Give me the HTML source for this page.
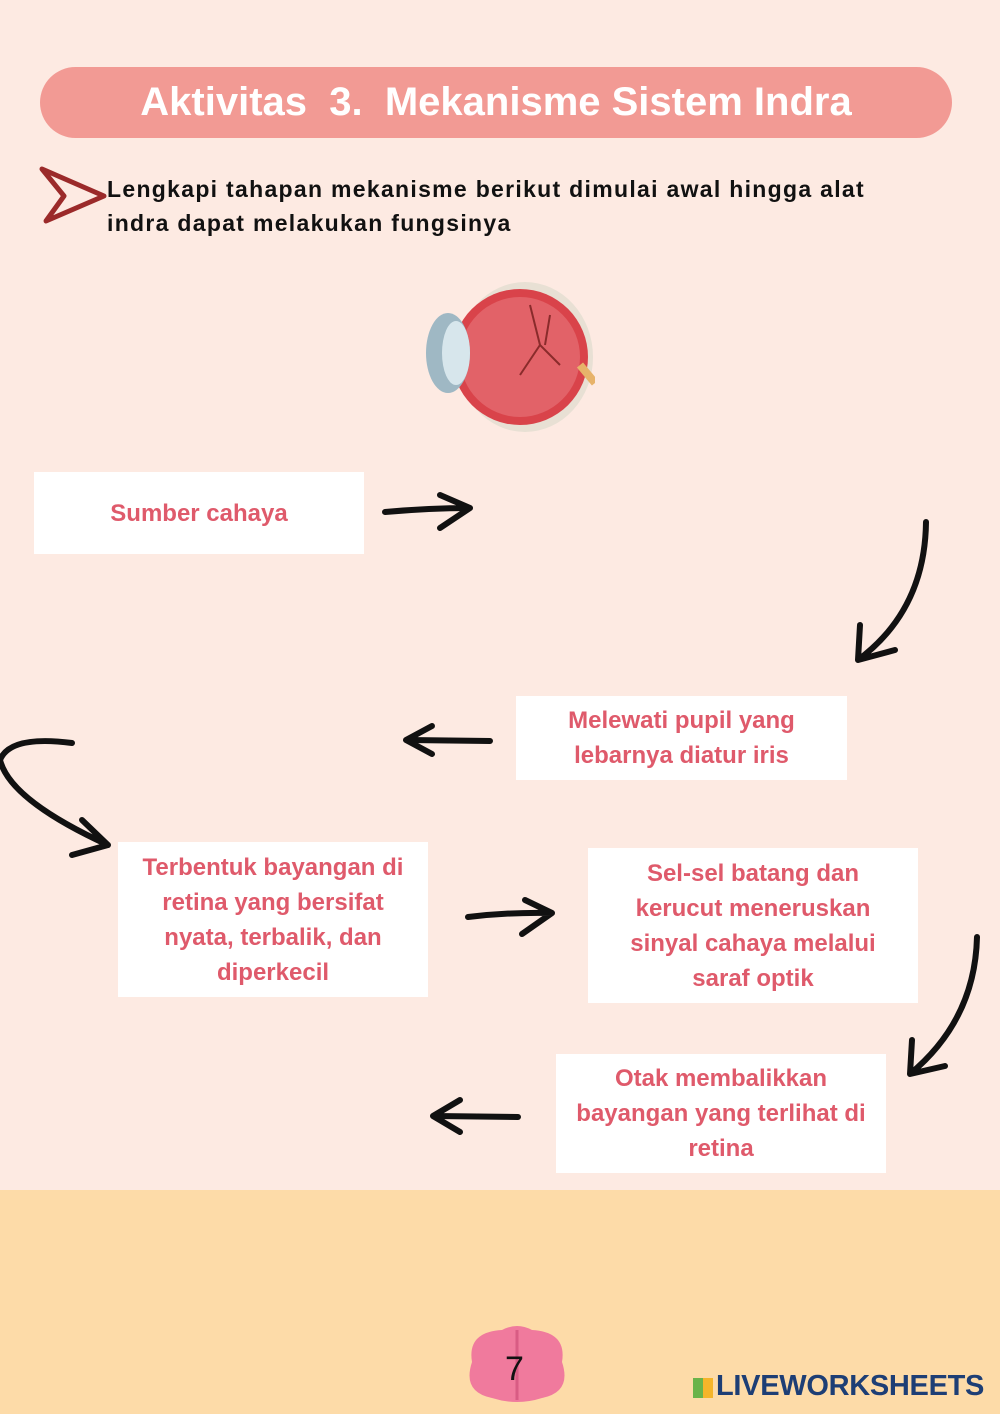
<!DOCTYPE html>
<html><head><style>
body{margin:0;width:1000px;height:1414px;position:relative;background:#fdeae2;font-family:"Liberation Sans",sans-serif;overflow:hidden}
.a{position:absolute}
.pill{left:40px;top:67px;width:912px;height:71px;border-radius:36px;background:#f29a94;color:#fff;font-weight:bold;font-size:40px;text-align:center;line-height:71px}
.ins{left:107px;top:172px;font-weight:bold;font-size:23px;line-height:34px;color:#111;letter-spacing:1.3px;white-space:nowrap}
.box{background:#fff;color:#df5a6b;font-weight:bold;font-size:24px;line-height:35px;text-align:center;display:flex;align-items:center;justify-content:center;white-space:nowrap}
.bot{left:0;top:1190px;width:1000px;height:224px;background:#fddba8}
</style></head><body>
<div class="a pill">Aktivitas&nbsp; 3.&nbsp; Mekanisme Sistem Indra</div>
<svg class="a" style="left:38px;top:165px" width="72" height="60"><path d="M4 4 L66 31 L8 56 L26 31 Z" fill="none" stroke="#9b2a2a" stroke-width="5" stroke-linejoin="round"/></svg>
<div class="a ins">Lengkapi tahapan mekanisme berikut dimulai awal hingga alat<br>indra dapat melakukan fungsinya</div>
<svg class="a" style="left:410px;top:265px" width="185" height="185">
<ellipse cx="115" cy="92" rx="68" ry="75" fill="#e8e0d4"/>
<circle cx="110" cy="92" r="68" fill="#d9434a"/>
<circle cx="110" cy="92" r="60" fill="#e26268"/>
<ellipse cx="38" cy="88" rx="22" ry="40" fill="#9fb8c4"/>
<ellipse cx="46" cy="88" rx="14" ry="32" fill="#d7e6ec"/>
<path d="M170 100 L185 118" stroke="#e7b36a" stroke-width="8"/>
<path d="M120 40 L130 80 L150 100 M130 80 L110 110 M140 50 L135 80" stroke="#8a2b2b" stroke-width="2" fill="none"/>
</svg>
<div class="a box" style="left:34px;top:472px;width:330px;height:82px">Sumber cahaya</div>
<div class="a box" style="left:516px;top:696px;width:331px;height:84px">Melewati pupil yang<br>lebarnya diatur iris</div>
<div class="a box" style="left:118px;top:842px;width:310px;height:155px">Terbentuk bayangan di<br>retina yang bersifat<br>nyata, terbalik, dan<br>diperkecil</div>
<div class="a box" style="left:588px;top:848px;width:330px;height:155px">Sel-sel batang dan<br>kerucut meneruskan<br>sinyal cahaya melalui<br>saraf optik</div>
<div class="a box" style="left:556px;top:1054px;width:330px;height:119px">Otak membalikkan<br>bayangan yang terlihat di<br>retina</div>
<svg class="a" style="left:0;top:0" width="1000" height="1190" fill="none" stroke="#111" stroke-width="6" stroke-linecap="round" stroke-linejoin="round">
<path d="M385 512 Q430 508 470 508 M440 495 L470 508 L440 528"/>
<path d="M926 522 Q925 610 858 660 M860 625 L858 660 L895 650"/>
<path d="M490 741 L408 740 M432 726 L406 740 L432 754"/>
<path d="M72 743 Q10 735 0 760 Q10 800 108 845 M82 820 L108 845 L72 855"/>
<path d="M468 917 Q510 912 552 913 M525 900 L552 913 L522 934"/>
<path d="M977 937 Q975 1020 910 1074 M912 1040 L910 1074 L945 1066"/>
<path d="M518 1117 L435 1116 M460 1100 L433 1116 L460 1132"/>
</svg>
<div class="a bot"></div>
<svg class="a" style="left:462px;top:1322px" width="110" height="82"><path d="M10 40 Q5 10 40 8 Q55 0 70 8 Q105 10 100 40 Q110 70 80 76 Q55 84 30 76 Q0 70 10 40Z" fill="#f07a9d"/><path d="M55 8 V78" stroke="#d95c84" stroke-width="3"/></svg>
<div class="a" style="left:505px;top:1350px;font-size:34px;color:#111">7</div>
<div class="a" style="left:693px;top:1378px;width:20px;height:20px;background:linear-gradient(90deg,#6ab34a 50%,#f5b52a 50%)"></div>
<div class="a" style="left:716px;top:1370px;font-weight:bold;font-size:29px;color:#1d3e75;letter-spacing:-0.3px">LIVEWORKSHEETS</div>
</body></html>
